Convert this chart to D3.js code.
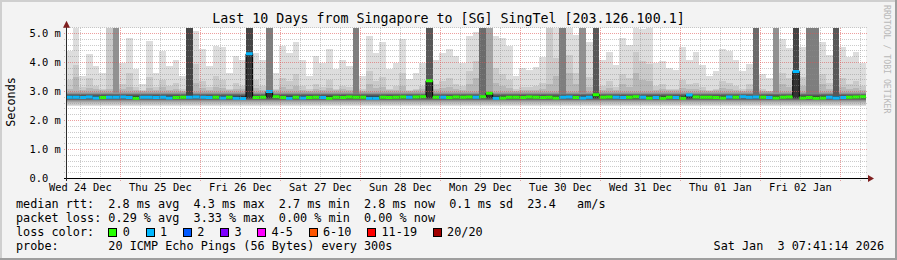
<!DOCTYPE html>
<html>
<head>
<meta charset="utf-8">
<script src="https://cdn.jsdelivr.net/npm/d3@7"></script>
<style>
body { margin: 0; background: #f3f3f3; }
svg text { font-family: "DejaVu Sans Mono", monospace; white-space: pre; }
</style>
</head>
<body>
<svg id="chart" width="897" height="260"></svg>
<script>
// ---- data (2 hour steps, last 10 days) ----
const endTime = new Date(Date.UTC(2026, 0, 3, 7, 41, 14))
const stepHours = 2

// median rtt (ms)
const median = [
  2.80,2.80,2.79,2.81,2.78,2.79,2.80,2.80,2.81,2.79,
  2.77,2.80,2.80,2.79,2.80,2.78,2.79,2.80,2.80,2.81,
  2.80,2.79,2.80,2.78,2.80,2.77,2.76,4.30,2.79,2.80,
  3.00,2.82,2.79,2.77,2.80,2.78,2.79,2.80,2.79,2.77,
  2.80,2.79,2.81,2.80,2.80,2.77,2.77,2.80,2.79,2.80,
  2.81,2.80,2.81,2.82,3.37,2.80,2.80,2.79,2.81,2.80,
  2.81,2.80,2.82,2.94,2.77,2.78,2.80,2.80,2.79,2.81,
  2.80,2.79,2.80,2.78,2.80,2.81,2.79,2.78,2.80,2.89,
  2.80,2.81,2.80,2.79,2.80,2.82,2.80,2.78,2.79,2.77,
  2.80,2.79,2.77,2.88,2.81,2.80,2.80,2.79,2.78,2.81,
  2.80,2.82,2.80,2.81,2.80,2.79,2.78,2.80,2.81,3.69,
  2.78,2.79,2.77,2.78,2.80,2.78,2.79,2.80,2.81,2.82
]

// lost pings per step (out of 20)
const lossCount = [
  1,1,1,1,1,0,1,1,1,1,
  0,1,1,1,1,1,0,0,1,1,
  1,1,0,1,0,1,1,1,0,0,
  1,0,0,1,0,1,0,0,1,0,
  0,0,0,0,0,1,1,0,0,0,
  0,1,0,0,0,0,1,0,0,0,
  0,1,0,0,1,0,0,0,0,0,
  0,0,0,0,1,1,0,1,1,0,
  0,0,1,1,0,0,1,0,1,0,
  0,1,0,1,0,0,0,0,0,1,
  0,1,1,1,0,1,0,0,0,1,
  0,0,0,0,1,1,1,0,0,0
]

// slowest ping of each step (ms)
const ping20 = [
  4.40,5.20,3.55,4.30,3.88,3.65,3.50,5.20,4.00,4.86,
  3.77,3.25,4.75,3.65,4.40,3.88,4.10,3.54,5.20,5.10,
  4.46,3.88,4.57,4.52,3.65,4.23,4.10,5.20,4.34,4.10,
  5.20,3.65,4.57,4.34,4.69,4.10,3.54,4.23,4.00,4.46,
  3.77,4.10,3.88,5.20,3.54,4.92,4.34,4.69,3.77,4.00,
  4.80,3.42,3.65,4.00,5.20,4.10,4.34,4.46,4.23,4.00,
  4.90,5.05,5.20,5.20,4.90,4.85,4.57,3.55,3.80,3.75,
  3.85,4.20,5.20,5.20,5.20,5.20,4.95,5.20,4.69,5.20,
  4.10,4.35,3.90,4.85,4.60,5.20,5.15,5.20,4.00,4.05,
  3.80,3.75,4.55,4.10,4.35,3.90,3.55,3.70,4.45,4.40,
  4.10,3.70,3.95,5.20,3.60,3.45,5.20,4.80,4.50,5.20,
  4.55,5.20,5.20,4.70,4.25,5.20,4.55,4.20,4.35,4.00
]

// second slowest ping (ms)
const ping19 = [
  3.40,3.90,3.15,3.45,3.20,3.10,5.20,5.20,3.25,3.65,
  3.15,3.05,3.50,3.15,3.40,3.20,3.30,3.08,5.20,3.95,
  3.35,3.15,3.55,3.40,3.10,3.30,3.20,5.20,3.40,3.20,
  5.20,3.10,3.45,3.35,3.60,3.20,3.08,3.25,3.15,3.40,
  3.10,3.20,3.15,5.20,3.08,3.70,3.35,3.50,3.10,3.20,
  3.65,3.05,3.10,3.20,5.20,3.25,3.35,3.45,3.25,3.20,
  3.70,4.05,5.20,5.20,3.80,3.60,3.40,3.08,3.15,3.15,
  3.20,3.30,5.20,4.15,5.20,4.25,3.65,5.20,3.50,5.20,
  3.20,3.35,3.15,3.60,3.45,4.35,4.05,3.95,3.20,3.25,
  3.10,3.10,3.40,3.25,3.30,3.15,3.05,3.10,3.35,3.30,
  3.20,3.08,3.25,5.20,3.08,3.02,5.20,3.65,3.45,5.20,
  3.50,5.20,5.20,3.60,3.30,5.20,3.45,3.25,3.35,3.20
]

// third slowest ping (ms)
const ping18 = [
  3.10,3.50,3.05,3.12,3.08,3.04,3.10,5.20,3.08,3.15,
  3.05,3.02,3.12,3.05,3.15,3.05,3.08,3.02,5.20,3.30,
  3.12,3.05,3.15,3.12,3.04,3.08,3.08,5.20,3.12,3.05,
  5.20,3.04,3.15,3.08,3.20,3.05,3.02,3.08,3.05,3.12,
  3.04,3.08,3.05,5.20,3.02,3.25,3.12,3.15,3.04,3.05,
  3.20,3.02,3.04,3.08,5.20,3.08,3.12,3.15,3.08,3.05,
  3.25,3.45,5.20,5.20,3.30,3.20,3.12,3.02,3.05,3.05,
  3.05,3.08,3.25,3.55,5.20,3.65,3.25,5.20,3.15,5.20,
  3.05,3.12,3.05,3.25,3.15,3.65,3.40,3.35,3.05,3.08,
  3.04,3.04,3.12,3.08,3.08,3.05,3.02,3.04,3.12,3.08,
  3.05,3.02,3.08,5.20,3.02,3.02,5.20,3.25,3.15,5.20,
  3.20,5.20,5.20,3.25,3.08,5.20,3.15,3.08,3.12,3.05
]

// how many of the 20 pings went above the top of the chart
const pingsAboveChart = [
  0,0,0,0,0,0,2,5,0,0,
  0,0,0,0,0,0,0,0,9,0,
  0,0,0,0,0,0,0,9,0,0,
  6,0,0,0,0,0,0,0,0,0,
  0,0,0,6,0,0,0,0,0,0,
  0,0,0,0,8,0,0,0,0,0,
  0,0,7,4,0,0,0,0,0,0,
  0,0,2,0,6,0,0,5,0,8,
  0,0,0,0,0,0,0,0,0,0,
  0,0,0,0,0,0,0,0,0,0,
  0,0,0,7,0,0,5,0,0,9,
  0,6,6,0,0,8,0,0,0,0
]

// typical fast pings (ping1..ping10) and middle-upper pings (ping17..ping11), ms
const lowerPings = [2.50, 2.55, 2.60, 2.64, 2.67, 2.70, 2.72, 2.74, 2.76, 2.78]
const upperPings = [3.00, 2.96, 2.93, 2.90, 2.87, 2.85, 2.83]

const yDomain = [0, 5.2]
const yTicks = [0, 1, 2, 3, 4, 5]
const yTickLabels = ['0.0', '1.0 m', '2.0 m', '3.0 m', '4.0 m', '5.0 m']

const lossLabels = ['0', '1', '2', '3', '4-5', '6-10', '11-19', '20/20']
const lossColors = ['#26ff00', '#00b8ff', '#0059ff', '#7e00ff', '#ff00ff', '#ff5500', '#ff0000', '#a10000']

const title = 'Last 10 Days from Singapore to [SG] SingTel [203.126.100.1]'
const legendRtt = 'median rtt:  2.8 ms avg  4.3 ms max  2.7 ms min  2.8 ms now  0.1 ms sd  23.4   am/s'
const legendLoss = 'packet loss: 0.29 % avg  3.33 % max  0.00 % min  0.00 % now'
const legendProbe = 'probe:       20 ICMP Echo Pings (56 Bytes) every 300s'
const stampText = 'Sat Jan  3 07:41:14 2026'

// ---- layout ----
const width = 897, height = 260
const PLOT = { left: 66, right: 866, bottom: 178.5, top: 27.7 }
const BACK = '#f3f3f3'
const ARROW = '#7f1f1f'

const stepMs = stepHours * 3600 * 1000
const startTime = new Date(+endTime - 10 * 86400 * 1000)

const svg = d3.select('#chart')

const x = d3.scaleUtc().domain([startTime, endTime]).range([PLOT.left, PLOT.right])
const y = d3.scaleLinear().domain(yDomain).range([PLOT.bottom, PLOT.top])
const crisp = v => Math.floor(v) + 0.5

// background + 3d border like rrdtool
svg.append('rect').attr('width', width).attr('height', height).attr('fill', BACK)
svg.append('path').attr('d', `M0,0H${width}V2H2V${height}H0Z`).attr('fill', '#cfcfcf')
svg.append('path').attr('d', `M${width},${height}H0V${height - 2}H${width - 2}V0H${width}Z`).attr('fill', '#9e9e9e')

// canvas
svg.append('rect')
  .attr('x', PLOT.left).attr('y', y(yDomain[1]))
  .attr('width', PLOT.right - PLOT.left).attr('height', y(0) - y(yDomain[1]))
  .attr('fill', '#ffffff')

svg.append('clipPath').attr('id', 'plotclip').append('rect')
  .attr('x', PLOT.left).attr('y', y(yDomain[1]))
  .attr('width', PLOT.right - PLOT.left).attr('height', y(0) - y(yDomain[1]))

//Smoke: 10 layers, ping(j) .. ping(21-j), lighter outside, darker inside (smokeping style)
const plot = svg.append('g').attr('clip-path', 'url(#plotclip)')
const stepTimes = median.map((m, i) => new Date(+startTime + i * stepMs))

function layerTop(j, i) {
  if (pingsAboveChart[i] >= j) return yDomain[1]
  let v
  if (j == 1) v = ping20[i]
  else if (j == 2) v = ping19[i]
  else if (j == 3) v = ping18[i]
  else v = upperPings[j - 4]
  return Math.max(v, median[i])
}

const smokeArea = d3.area().curve(d3.curveStepAfter)
  .x(d => x(d.t)).y0(d => y(d.lo)).y1(d => y(d.hi))

for (let j = 1; j <= 10; j++) {
  const pts = stepTimes.map((t, i) => ({ t: t, lo: Math.min(lowerPings[j - 1], median[i]), hi: layerTop(j, i) }))
  pts.push({ t: endTime, lo: pts[pts.length - 1].lo, hi: pts[pts.length - 1].hi })
  const g = Math.floor(190 / 10 * (10 - j)) + 50
  plot.append('path').attr('d', smokeArea(pts))
    .attr('fill', d3.rgb(g, g, g).formatHex())
    .attr('shape-rendering', 'crispEdges')
}

//Grid (drawn on top of the smoke, like rrdtool)
const grid = svg.append('g').attr('shape-rendering', 'crispEdges')
const minorCol = 'rgba(140,140,140,0.45)'
const majorCol = 'rgba(222,80,80,0.55)'

d3.range(0.2, yDomain[1] + 1e-9, 0.2).filter(v => Math.abs(v - Math.round(v)) > 1e-6).forEach(v => {
  grid.append('line').attr('x1', PLOT.left - 2).attr('x2', PLOT.right + 2)
    .attr('y1', crisp(y(v))).attr('y2', crisp(y(v)))
    .attr('stroke', minorCol).attr('stroke-dasharray', '1,1')
})
yTicks.filter(v => v > 0).forEach(v => {
  grid.append('line').attr('x1', PLOT.left - 2).attr('x2', PLOT.right + 2)
    .attr('y1', crisp(y(v))).attr('y2', crisp(y(v)))
    .attr('stroke', majorCol).attr('stroke-dasharray', '1,1')
})
d3.utcHour.every(6).range(startTime, endTime).filter(t => t.getUTCHours() != 0).forEach(t => {
  grid.append('line').attr('x1', crisp(x(t))).attr('x2', crisp(x(t)))
    .attr('y1', PLOT.bottom + 2).attr('y2', y(yDomain[1]))
    .attr('stroke', minorCol).attr('stroke-dasharray', '1,1')
})
d3.utcDay.range(startTime, endTime).forEach(t => {
  grid.append('line').attr('x1', crisp(x(t))).attr('x2', crisp(x(t)))
    .attr('y1', PLOT.bottom + 2).attr('y2', y(yDomain[1]))
    .attr('stroke', majorCol).attr('stroke-dasharray', '1,1')
})

//Median line: thin dark step line, then loss coloured LINE3 pieces (one per step)
const medPts = stepTimes.map((t, i) => ({ t: t, v: median[i] }))
medPts.push({ t: endTime, v: median[median.length - 1] })
plot.append('path')
  .attr('d', d3.line().curve(d3.curveStepAfter).x(d => x(d.t)).y(d => y(d.v))(medPts))
  .attr('fill', 'none').attr('stroke', '#000').attr('stroke-width', 1)

function lossClass(n) {
  if (n <= 3) return n
  if (n <= 5) return 4
  if (n <= 10) return 5
  if (n <= 19) return 6
  return 7
}
plot.append('g').selectAll('line').data(median).join('line')
  .attr('x1', (d, i) => x(stepTimes[i]))
  .attr('x2', (d, i) => x(i + 1 < median.length ? stepTimes[i + 1] : endTime))
  .attr('y1', d => y(d)).attr('y2', d => y(d))
  .attr('stroke', (d, i) => lossColors[lossClass(lossCount[i])])
  .attr('stroke-width', 3)

//Axes
svg.append('line').attr('x1', PLOT.left - 2).attr('x2', PLOT.right + 4)
  .attr('y1', crisp(y(0))).attr('y2', crisp(y(0))).attr('stroke', '#000').attr('shape-rendering', 'crispEdges')
svg.append('line').attr('x1', crisp(PLOT.left)).attr('x2', crisp(PLOT.left))
  .attr('y1', y(0) + 2).attr('y2', y(yDomain[1]) - 2).attr('stroke', '#2c2c2c').attr('shape-rendering', 'crispEdges')
svg.append('path').attr('d', `M${PLOT.left - 3},${y(yDomain[1])}L${PLOT.left + 4},${y(yDomain[1])}L${crisp(PLOT.left)},${y(yDomain[1]) - 7}Z`).attr('fill', ARROW)
svg.append('path').attr('d', `M${PLOT.right + 2},${crisp(y(0)) - 3.5}L${PLOT.right + 2},${crisp(y(0)) + 3.5}L${PLOT.right + 8},${crisp(y(0))}Z`).attr('fill', ARROW)

//Tick labels (left aligned in a 5 character column, like rrdtool)
svg.append('g').selectAll('text').data(yTicks).join('text')
  .attr('x', 29.5).attr('y', d => y(d) + 3.8)
  .style('font-size', '10.4px').attr('fill', '#000')
  .text((d, i) => yTickLabels[i])

const dayLabel = d3.utcFormat('%a %d %b')
svg.append('g').selectAll('text')
  .data(d3.utcDay.range(d3.utcDay.floor(startTime), endTime).map(t => d3.utcHour.offset(t, 12)).filter(t => t >= startTime && t <= endTime))
  .join('text')
  .attr('x', d => x(d)).attr('y', 190.5)
  .attr('text-anchor', 'middle').style('font-size', '10.4px').attr('fill', '#000')
  .text(d => dayLabel(d))

//Titles
svg.append('text').attr('x', width / 2).attr('y', 23).attr('text-anchor', 'middle')
  .style('font-size', '13.3px').text(title)
svg.append('text').attr('transform', 'translate(14.5,102) rotate(-90)').attr('text-anchor', 'middle')
  .style('font-size', '11.8px').text('Seconds')
svg.append('text').attr('transform', 'translate(884,5) rotate(90)')
  .style('font-size', '8.2px').attr('fill', '#b8b8b8').text('RRDTOOL / TOBI OETIKER')

//Legend
const LEG_X = 16, LEG_FONT = '11.8px', CHAR_W = 7.1
svg.append('text').attr('x', LEG_X).attr('y', 208).style('font-size', LEG_FONT).text(legendRtt)
svg.append('text').attr('x', LEG_X).attr('y', 222).style('font-size', LEG_FONT).text(legendLoss)
svg.append('text').attr('x', LEG_X).attr('y', 236).style('font-size', LEG_FONT).text('loss color:')
svg.append('text').attr('x', LEG_X).attr('y', 250).style('font-size', LEG_FONT).text(legendProbe)
svg.append('text').attr('x', 884).attr('y', 250).attr('text-anchor', 'end').style('font-size', LEG_FONT).text(stampText)

let cursor = LEG_X + 13 * CHAR_W
lossLabels.forEach((lab, i) => {
  svg.append('rect').attr('x', Math.round(cursor) + 0.5).attr('y', 228.5).attr('width', 8).attr('height', 8)
    .attr('fill', lossColors[i]).attr('stroke', '#000')
  svg.append('text').attr('x', cursor + 14.5).attr('y', 236).style('font-size', LEG_FONT).text(lab)
  cursor = cursor + 14.5 + lab.length * CHAR_W + 15.6
})
</script>
</body>
</html>
